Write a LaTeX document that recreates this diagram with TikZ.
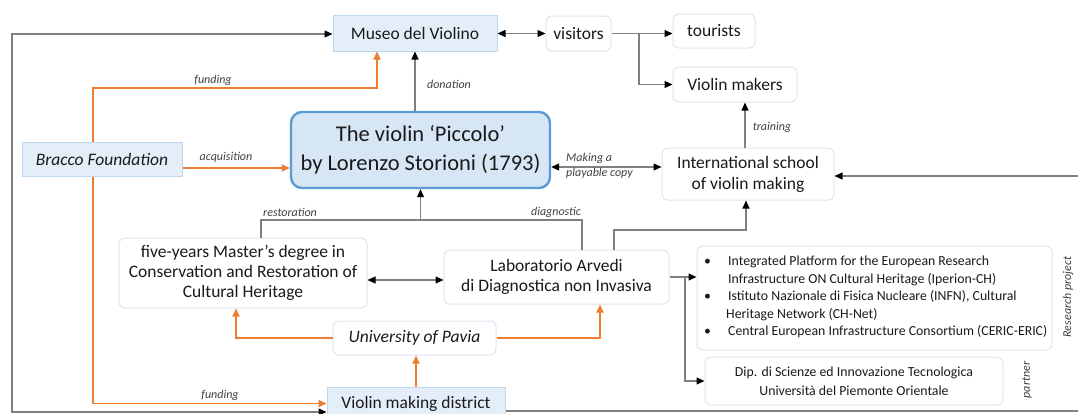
\documentclass[tikz,border=0pt]{standalone}
\usepackage{fontspec}
\setmainfont{Carlito}
\usetikzlibrary{arrows.meta}
\definecolor{gl}{HTML}{808080}
\definecolor{org}{HTML}{ED7D31}
\definecolor{bfill}{HTML}{E4EEF9}
\definecolor{bline}{HTML}{BDD7EE}
\definecolor{wline}{HTML}{DCE6F2}
\definecolor{pfill}{HTML}{D6E6F5}
\definecolor{pline}{HTML}{5B9BD5}
\definecolor{lbl}{HTML}{404040}
\definecolor{txt}{HTML}{1A1A1A}
\newcommand\fsz[2]{\fontsize{#1}{#2}\selectfont}
\begin{document}
\begin{tikzpicture}[x=1pt,y=-1pt,
  bluebox/.style={draw=bline, fill=bfill, line width=1pt, inner sep=0pt, align=center, text=txt, font=\fsz{17.5}{21}},
  softbox/.style={draw=wline, fill=white, line width=1pt, rounded corners=6pt, inner sep=0pt, align=center, text=txt, font=\fsz{17.5}{21}},
  gline/.style={draw=gl, line width=1.1pt},
  garrow/.style={gline, -{Triangle[length=8pt,width=7pt,color=black]}},
  gboth/.style={gline, {Triangle[length=8pt,width=7pt,color=black]}-{Triangle[length=8pt,width=7pt,color=black]}},
  oline/.style={draw=org, line width=1.8pt},
  oarrow/.style={oline, -{Triangle[length=8pt,width=7pt]}},
  lab/.style={font=\fsz{12}{14}\itshape, text=lbl, inner sep=0pt}
]
\useasboundingbox (0,0) rectangle (1078,413);

% nodes
\node[bluebox, minimum width=164, minimum height=36] (museo) at (415,33) {Museo del Violino};
\node[softbox, minimum width=65, minimum height=35] (visitors) at (578.5,33.5) {visitors};
\node[softbox, minimum width=82, minimum height=34] (tourists) at (714,31) {tourists};
\node[softbox, minimum width=124, minimum height=35] (makers) at (735,84.5) {Violin makers};
\node[draw=pline, fill=pfill, line width=2.4pt, rounded corners=11pt, minimum width=259, minimum height=76, align=center, text=txt, font=\fsz{22.5}{29}] (piccolo) at (420.5,150) {The violin ‘Piccolo’\\by Lorenzo Storioni (1793)};
\node[bluebox, minimum width=160, minimum height=34, font=\fsz{17.5}{21}\itshape] (bracco) at (102,159) {Bracco Foundation};
\node[softbox, minimum width=172, minimum height=52] (school) at (748,174) {International school\\of violin making};
\node[softbox, minimum width=248, minimum height=70, font=\fsz{17.5}{20}] (five) at (243,273) {five-years Master’s degree in\\Conservation and Restoration of\\Cultural Heritage};
\node[softbox, minimum width=225, minimum height=54, font=\fsz{17.5}{20}] (lab) at (556.5,277) {Laboratorio Arvedi\\di Diagnostica non Invasiva};
\node[softbox, minimum width=163, minimum height=34, font=\fsz{17.5}{21}\itshape] (pavia) at (414.5,338) {University of Pavia};
\node[bluebox, minimum width=178, minimum height=33] (district) at (416,403.5) {Violin making district};
\node[softbox, minimum width=355, minimum height=104] (research) at (874.5,298) {};
\node[anchor=north west, align=left, inner sep=0pt, text=txt, font=\fsz{13.8}{17.5}] (restext) at (704,256)
  {\makebox[24pt][l]{\textbullet}Integrated Platform for the European Research\\
   \hspace*{24pt}Infrastructure ON Cultural Heritage (Iperion-CH)\\
   \makebox[24pt][l]{\textbullet}Istituto Nazionale di Fisica Nucleare (INFN), Cultural\\
   \hspace*{22pt}Heritage Network (CH-Net)\\
   \makebox[24pt][l]{\textbullet}Central European Infrastructure Consortium (CERIC-ERIC)};
\node[softbox, minimum width=298, minimum height=48, font=\fsz{13.8}{19}] (dip) at (854,381) {Dip. di Scienze ed Innovazione Tecnologica\\Università del Piemonte Orientale};
\node[lab, rotate=90] (resproj) at (1068,297) {Research project};
\node[lab, rotate=90] (partner) at (1027,380) {partner};

% helper coordinates
\coordinate (fk) at (377,88);
\coordinate (br) at (639,33);
\coordinate (hy) at (0,220);
\coordinate (hy2) at (0,230);
\coordinate (rj) at (685,277);
\coordinate (rr) at (1078,176);
\coordinate (br2) at (1078,411);
\coordinate (lt) at (12,34);

% black / gray connectors
\draw[gboth] (museo.east |- visitors.west) -- (visitors.west);
\draw[garrow] (visitors.east) -- (visitors.east -| tourists.west);
\draw[garrow] (br) |- (makers.west);
\draw[garrow] (piccolo.north -| museo.south) -- (museo.south);
\draw[gboth] ([yshift=-17pt]piccolo.east) -- ([yshift=-17pt]piccolo.east -| school.west);
\draw[garrow] ([xshift=-3pt]school.north) -- ([xshift=-3pt]school.north |- makers.south);
\draw[garrow] (rr) -- (rr -| school.east);
\draw[gline] ([xshift=18pt]five.north) |- ([xshift=25.5pt]lab.north |- hy) -- ([xshift=25.5pt]lab.north);
\draw[garrow] (piccolo.south |- hy) -- (piccolo.south);
\draw[garrow] ([xshift=57.5pt]lab.north) |- ([xshift=-2pt]school.south |- hy2) -- ([xshift=-2pt]school.south);
\draw[gboth] ([yshift=-7pt]five.east) -- ([yshift=-7pt]five.east -| lab.west);
\draw[garrow] (lab.east) -- (lab.east -| research.west);
\draw[garrow] (rj) |- (dip.west);
\draw[gline] ([yshift=-7.5pt]district.east) -- (br2);
\draw[gboth] ([yshift=-8.5pt]district.west) -| (lt) -- (lt -| museo.west);

% orange connectors
\draw[oarrow] ([xshift=-9pt]bracco.north) |- (fk) -- (fk |- museo.south);
\draw[oarrow] ([yshift=-9pt]bracco.east) -- ([yshift=-9pt]bracco.east -| piccolo.west);
\draw[oarrow] ([xshift=-9pt]bracco.south) |- (district.west);
\draw[oarrow] (pavia.west) -| ([xshift=-7pt]five.south);
\draw[oarrow] (pavia.east) -| ([xshift=43.5pt]lab.south);
\draw[oarrow] (district.north) -- (district.north |- pavia.south);

% labels
\node[lab] (l1) at (213,80) {funding};
\node[lab] (l2) at (449,84) {donation};
\node[lab] (l3) at (226,157) {acquisition};
\node[lab, anchor=west, align=left, font=\fsz{12}{14.5}\itshape] (l4) at (566,166) {Making a\\playable copy};
\node[lab] (l5) at (772,127) {training};
\node[lab] (l6) at (290,212) {restoration};
\node[lab] (l7) at (556,212) {diagnostic};
\node[lab] (l8) at (220,395) {funding};
\end{tikzpicture}
\end{document}
